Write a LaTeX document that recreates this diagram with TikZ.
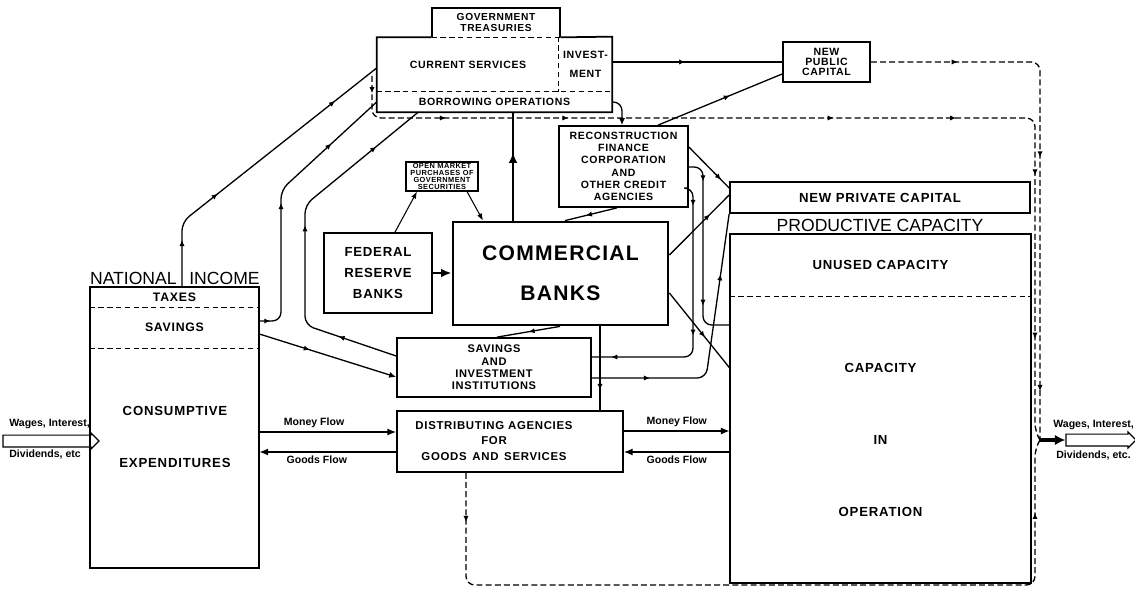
\documentclass[tikz,border=0pt]{standalone}
\usepackage{fontspec}
\setmainfont{Liberation Sans}
\newfontfamily\capsfont[LetterSpace=6.0]{Liberation Sans}
\usetikzlibrary{arrows.meta,decorations.markings,shapes.arrows}

\begin{document}
\begin{tikzpicture}[x=0.02cm,y=-0.02cm,
	part/.style={inner sep=0pt, align=center},
	box/.style={part, draw, line width=1pt},
	flow/.style={line width=0.75pt, rounded corners=5pt},
	pay/.style={line width=0.75pt, dash pattern=on 3.4pt off 1.8pt, rounded corners=5pt},
	divider/.style={line width=0.75pt, dash pattern=on 3pt off 2pt},
	flowtxt/.style={font=\bfseries\fontsize{6}{7}\selectfont, inner sep=2pt},
	wagetxt/.style={font=\bfseries\fontsize{6}{7}\selectfont, inner sep=0pt, anchor=west},
	bigarrow/.style={single arrow, draw, line width=0.7pt, inner xsep=0pt, inner ysep=3pt,
		single arrow head extend=1.2pt},
	/pgf/decoration/arrowmark/.style={mark=at position #1 with {\arrow{Latex[length=3.5pt,width=3pt]}}},
	midarrows/.style={postaction={decorate,decoration={markings,arrowmark/.list={#1}}}},
	bigmidarrow/.style={postaction={decorate,decoration={markings,
		mark=at position #1 with {\arrow{Latex[length=6pt,width=5pt]}}}}},
	]
	\useasboundingbox (0,0) rectangle (1135,588);

	% government
	\node[part, minimum width=2.56cm, minimum height=0.58cm, font=\capsfont\bfseries\fontsize{5.8}{6.8}\selectfont] (treas) at (496,22.5) {GOVERNMENT\\TREASURIES};
	\node[part, minimum width=3.64cm, minimum height=1.1cm, font=\capsfont\bfseries\fontsize{6}{7}\selectfont] (cursrv) at (468,64.5) {CURRENT SERVICES};
	\node[part, minimum width=1.06cm, minimum height=1.1cm, font=\capsfont\bfseries\fontsize{6}{10.8}\selectfont] (invest) at (585.5,64.5) {INVEST-\\MENT};
	\node[part, minimum width=4.7cm, minimum height=0.4cm, font=\capsfont\bfseries\fontsize{6}{7}\selectfont] (borrow) at (494.5,102) {BORROWING OPERATIONS};
	\draw[line width=1pt] (treas.south west) |- (treas.north east) -- (treas.south east);
	\draw[line width=1pt] (treas.south west) -| (borrow.south west) -| (invest.north east) -- (treas.south east);
	\draw[divider] (treas.south west) -- (treas.south east);
	\draw[divider] (borrow.north west) -- (borrow.north east);
	\draw[divider] (invest.north west) -- (invest.south west);

	\node[box, minimum width=1.74cm, minimum height=0.8cm, font=\capsfont\bfseries\fontsize{6}{5.8}\selectfont] (npubcap) at (826.5,62) {NEW\\PUBLIC\\CAPITAL};
	\node[box, minimum width=2.58cm, minimum height=1.62cm, font=\capsfont\bfseries\fontsize{6}{7}\selectfont] (rfc) at (623.5,166.5) {RECONSTRUCTION\\FINANCE\\CORPORATION\\AND\\OTHER CREDIT\\AGENCIES};
	\node[box, line width=0.6pt, minimum width=1.44cm, minimum height=0.58cm, font=\capsfont\bfseries\fontsize{4.2}{3.9}\selectfont] (openmkt) at (442,176.5) {OPEN MARKET\\PURCHASES OF\\GOVERNMENT\\SECURITIES};
	\node[box, minimum width=2.16cm, minimum height=1.6cm, font=\capsfont\bfseries\fontsize{7.5}{12}\selectfont] (frb) at (378,273) {FEDERAL\\RESERVE\\BANKS};
	\node[box, line width=1.6pt, minimum width=4.3cm, minimum height=2.06cm, font=\capsfont\bfseries\fontsize{12}{22.7}\selectfont] (cbanks) at (560.5,273.5) {COMMERCIAL\\BANKS};
	\node[box, minimum width=3.88cm, minimum height=1.18cm, font=\capsfont\bfseries\fontsize{6.3}{7}\selectfont] (savinst) at (494,367.5) {SAVINGS\\AND\\INVESTMENT\\INSTITUTIONS};
	\node[box, minimum width=4.52cm, minimum height=1.22cm] (distag) at (510,441.5) {};
	\node[part, font=\capsfont\bfseries\fontsize{6.5}{8.8}\selectfont] (distagtxt) at (494,441) {DISTRIBUTING AGENCIES\\FOR\\GOODS\enspace AND\enspace SERVICES};

	% national income
	\node[part, minimum width=3.38cm, minimum height=0.4cm, font=\capsfont\bfseries\fontsize{7}{8}\selectfont] (taxes) at (174.5,297) {TAXES};
	\node[part, minimum width=3.38cm, minimum height=0.82cm, font=\capsfont\bfseries\fontsize{7}{8}\selectfont] (savings) at (174.5,327.5) {SAVINGS};
	\node[part, minimum width=3.38cm, minimum height=4.4cm] (consexp) at (174.5,458) {};
	\node[part, font=\capsfont\bfseries\fontsize{7.5}{9}\selectfont] (consexptxt) at (175,437) {CONSUMPTIVE\\[20.5pt]EXPENDITURES};
	\draw[line width=1pt] (taxes.north west) rectangle (consexp.south east);
	\draw[divider] (taxes.south west) -- (taxes.south east);
	\draw[divider] (savings.south west) -- (savings.south east);
	\node[anchor=base east, inner sep=0pt, font=\fontsize{10}{12}\selectfont] (natl) at (177,284) {NATIONAL};
	\node[anchor=base west, inner sep=0pt, font=\fontsize{10}{12}\selectfont] (incm) at (189,284) {INCOME};

	% productive capacity
	\node[box, minimum width=6cm, minimum height=0.62cm, font=\capsfont\bfseries\fontsize{7.5}{9}\selectfont] (nprivcap) at (880,197.5) {NEW PRIVATE CAPITAL};
	\node[anchor=base, inner sep=0pt, font=\fontsize{10}{12}\selectfont] (prodtitle) at (880,231) {PRODUCTIVE CAPACITY};
	\node[part, minimum width=6.02cm, minimum height=1.24cm, font=\capsfont\bfseries\fontsize{7.5}{9}\selectfont] (unused) at (880.5,265) {UNUSED CAPACITY};
	\node[part, minimum width=6.02cm, minimum height=5.74cm, font=\capsfont\bfseries\fontsize{7.5}{9}\selectfont] (inoper) at (880.5,439.5) {CAPACITY\\[32pt]IN\\[32pt]OPERATION};
	\draw[line width=1pt] (unused.north west) rectangle (inoper.south east);
	\draw[divider] (unused.south west) -- (unused.south east);

	% income in and out
	\node[bigarrow, minimum height=1.92cm] (wagesin) at (48,441) {};
	\node[wagetxt] (win1) at (9,424) {Wages, Interest,};
	\node[wagetxt] (win2) at (9,454) {Dividends, etc};
	\node[bigarrow, minimum height=1.4cm] (wagesout) at (1098,440) {};
	\node[wagetxt] (wout1) at (1053,425) {Wages, Interest,};
	\node[wagetxt] (wout2) at (1056,455) {Dividends, etc.};

	% money flows into the government
	\draw[flow, midarrows={0.15,0.35,0.83}] (taxes.north -| 182,0) -- (182,222) -- (cursrv.west |- 0,68);
	\draw[flow, midarrows={0.04,0.49,0.78}] (savings.east |- 0,321) -- (281,321) -- (281,190) -- (borrow.west);
	\draw[flow, midarrows={0.17,0.54,0.85}] (savinst.west |- 0,356) -- (305,325) -- (305,205) -- (borrow.south -| 418,0);
	\draw[flow, midarrows=0.37, -{Latex[length=4pt,width=3.5pt]}] (savings.east |- 0,334) -- (savinst.west |- 0,377);
	\draw[line width=1.4pt, bigmidarrow=0.63] (cbanks.north -| 513,0) -- (borrow.south -| 513,0);

	% out of the government
	\draw[flow, -{Latex[length=4pt,width=3.5pt]}] (borrow.east) -- (622,102) -- (rfc.north -| 622,0);
	\draw[flow, midarrows=0.43] (invest.east |- npubcap.west) -- (npubcap.west);
	\draw[flow, midarrows=0.58] (rfc.north -| 658,0) -- (npubcap.west |- 0,74);

	% credit agencies and banks
	\draw[flow, midarrows=0.6] (rfc.south -| 617,0) -- (cbanks.north -| 565,0);
	\draw[flow, midarrows=0.8] (rfc.east |- 0,147) -- (nprivcap.west |- 0,188);
	\draw[flow, midarrows=0.68] (cbanks.east |- 0,255) -- (nprivcap.west |- 0,195);
	\draw[flow, midarrows=0.59] (cbanks.east |- 0,293) -- (inoper.west |- 0,368);
	\draw[flow, midarrows={0.13,0.78}] (rfc.east |- 0,167) -- (703,167) -- (703,325) -- (inoper.west |- 0,325);
	\draw[flow, midarrows={0.1,0.57,0.93}] (rfc.east |- 0,188) -- (693,188) -- (693,357) -- (savinst.east |- 0,357);
	\draw[flow, midarrows={0.21,0.78}] (savinst.east |- 0,378) -- (706,378) -- (nprivcap.south west);
	\draw[flow, midarrows=0.5] (cbanks.south -| 560,0) -- (savinst.north -| 497,0);
	\draw[flow, midarrows=0.76] (cbanks.south -| 600,0) -- (distag.north -| 600,0);
	\draw[line width=1.6pt, -{Latex[length=6pt,width=5pt]}] (frb.east) -- (cbanks.west |- frb.east);
	\draw[line width=0.6pt, -{Latex[length=4pt,width=3pt]}] (frb.north -| 395,0) -- (openmkt.south -| 417,0);
	\draw[line width=0.6pt, -{Latex[length=4pt,width=3pt]}] (openmkt.south -| 467,0) -- (cbanks.north -| 483,0);

	% money flow and goods flow
	\draw[flow, -{Latex[length=5pt,width=4pt]}] (consexp.east |- 0,432) -- node[flowtxt, above, pos=0.4] (mfl) {Money Flow} (distag.west |- 0,432);
	\draw[flow, -{Latex[length=5pt,width=4pt]}] (distag.west |- 0,452) -- node[flowtxt, below, pos=0.58] (gfl) {Goods Flow} (consexp.east |- 0,452);
	\draw[flow, -{Latex[length=5pt,width=4pt]}] (distag.east |- 0,431) -- node[flowtxt, above] (mfr) {Money Flow} (inoper.west |- 0,431);
	\draw[flow, -{Latex[length=5pt,width=4pt]}] (inoper.west |- 0,452) -- node[flowtxt, below] (gfr) {Goods Flow} (distag.east |- 0,452);

	% payments back to income
	\coordinate (csout) at (372,76);
	\coordinate (merge) at (1040,440);
	\draw[pay, midarrows={0.017,0.11,0.23,0.49,0.61,0.74,0.9}] (csout) -- (372,118) -- (1035,118) -- (1035,432) -- (merge);
	\draw[pay, midarrows={0.16,0.48,0.91}] (npubcap.east |- 0,62) -- (1040,62) -- (merge);
	\draw[pay, midarrows={0.06,0.91}] (distag.south -| 466,0) -- (466,585) -- (1035,585) -- (1035,448) -- (merge);
	\draw[line width=2.5pt, -{Latex[length=6pt,width=6pt]}] (merge) -- (wagesout.west);
\end{tikzpicture}
\end{document}
